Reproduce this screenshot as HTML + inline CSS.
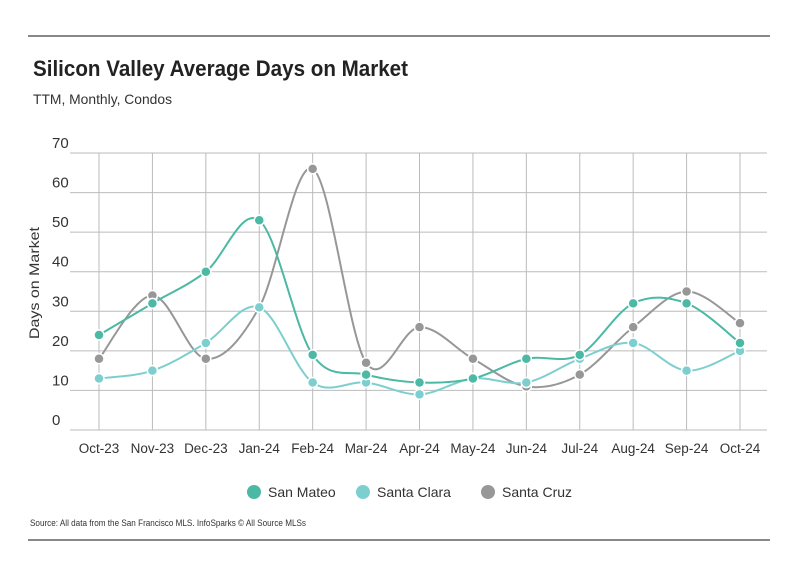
<!DOCTYPE html>
<html><head><meta charset="utf-8"><style>
body{margin:0;background:#fff;font-family:"Liberation Sans",sans-serif;}
svg{display:block}
</style></head><body>
<svg width="799" height="575">
<line x1="28" y1="36" x2="770" y2="36" stroke="#111" stroke-width="1"/>
<text x="33" y="76" font-size="22" font-weight="bold" fill="#222" textLength="375" lengthAdjust="spacingAndGlyphs">Silicon Valley Average Days on Market</text>
<text x="33" y="104" font-size="14" fill="#333" textLength="139" lengthAdjust="spacingAndGlyphs">TTM, Monthly, Condos</text>
<g id="grid"></g><g id="yt"></g><g id="xt"></g><g id="series"></g>
<text transform="translate(39,283) rotate(-90)" text-anchor="middle" font-size="14" fill="#333" textLength="112" lengthAdjust="spacingAndGlyphs">Days on Market</text>
<g id="legend"></g>
<text x="30" y="526" font-size="9" fill="#333" textLength="276" lengthAdjust="spacingAndGlyphs">Source:  All data from the San Francisco MLS. InfoSparks © All Source MLSs</text>
<line x1="28" y1="540" x2="770" y2="540" stroke="#111" stroke-width="1"/>
</svg>
<script>
const categories=["Oct-23","Nov-23","Dec-23","Jan-24","Feb-24","Mar-24","Apr-24","May-24","Jun-24","Jul-24","Aug-24","Sep-24","Oct-24"];
const sanMateo=[24,32,40,53,19,14,12,13,18,19,32,32,22];
const santaClara=[13,15,22,31,12,12,9,13,12,18,22,15,20];
const santaCruz=[18,34,18,31,66,17,26,18,11,14,26,35,27];
const yTicks=[0,10,20,30,40,50,60,70];
const seriesNames=["San Mateo","Santa Clara","Santa Cruz"];
const NS="http://www.w3.org/2000/svg";
const x=i=>99+i*(740-99)/(categories.length-1);
const y=v=>430-v*(430-153)/70;
function mk(t,a,p){const e=document.createElementNS(NS,t);for(const k in a)e.setAttribute(k,a[k]);p.appendChild(e);return e;}
const grid=document.getElementById('grid'),yt=document.getElementById('yt'),xt=document.getElementById('xt'),sg=document.getElementById('series'),lg=document.getElementById('legend');
yTicks.forEach(v=>{
 const l=mk('line',{x1:70,x2:767,y1:y(v),y2:y(v),stroke:'#bbb','stroke-width':1},grid);
 
 
 const t=mk('text',{x:52,y:y(v)-5,'font-size':15,fill:'#333'},yt);t.textContent=v;
 
 
});
categories.forEach((c,i)=>{
 const l=mk('line',{x1:x(i),x2:x(i),y1:153,y2:430,stroke:'#bbb','stroke-width':1},grid);
 
 
 const t=mk('text',{x:x(i),y:453,'font-size':13.5,fill:'#333','text-anchor':'middle'},xt);t.textContent=c;
 
 
});
function path(vals){const p=vals.map((v,i)=>[x(i),y(v)]);let d=`M${p[0][0]},${p[0][1]}`;
 for(let i=0;i<p.length-1;i++){const p0=p[i-1]||p[i],p1=p[i],p2=p[i+1],p3=p[i+2]||p2;
 d+=`C${p1[0]+(p2[0]-p0[0])/6},${p1[1]+(p2[1]-p0[1])/6} ${p2[0]-(p3[0]-p1[0])/6},${p2[1]-(p3[1]-p1[1])/6} ${p2[0]},${p2[1]}`;}return d;}
const all=[[santaCruz,'#979797','santa-cruz'],[santaClara,'#7dcfcf','santa-clara'],[sanMateo,'#4cb9a4','san-mateo']];
all.forEach(([vals,col,n])=>{
 const pa=mk('path',{d:path(vals),fill:'none',stroke:col,'stroke-width':2},sg);
 
 
 vals.forEach((v,i)=>{const c=mk('circle',{cx:x(i),cy:y(v),r:5,fill:col,stroke:'#fff','stroke-width':1.5},sg);
 
 });
});
const lx=[254,363,488],lc=['#4cb9a4','#7dcfcf','#979797'];
seriesNames.forEach((s,i)=>{
 const c=mk('circle',{cx:lx[i],cy:492,r:7,fill:lc[i]},lg);
 
 
 const t=mk('text',{x:lx[i]+14,y:497,'font-size':14,fill:'#333'},lg);t.textContent=s;
 
 
});
</script>
</body></html>
